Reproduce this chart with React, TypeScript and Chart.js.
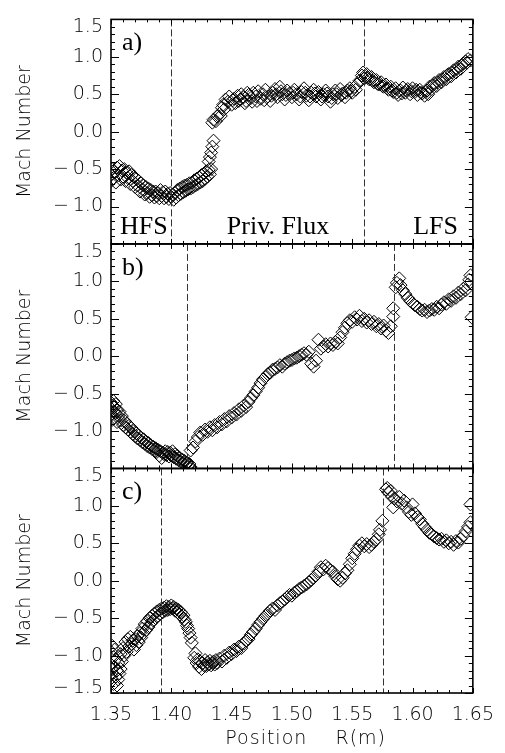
import { useEffect, useRef } from 'react';
import { Chart, registerables } from 'chart.js';

Chart.register(...registerables);

// ---- axis ticks / labels ----
const xTicks = [1.35, 1.4, 1.45, 1.5, 1.55, 1.6, 1.65];
const yTicks = [-1.5, -1.0, -0.5, 0, 0.5, 1.0, 1.5];
const panelIds = ['ya', 'yb', 'yc'];
const panelNames = ['a)', 'b)', 'c)'];
const regionLabels = [
  { text: 'HFS', x: 1.3575, y: -1.37 },
  { text: 'Priv. Flux', x: 1.446, y: -1.37 },
  { text: 'LFS', x: 1.6005, y: -1.37 },
];
const dashA = [1.4, 1.56];
const dashB = [1.4134, 1.5844];
const dashC = [1.3916, 1.5751];

// ---- data: [position R (m), Mach number] ----
const machA: [number, number][] = [
  [1.350,-0.58],[1.350,-0.66],[1.351,-0.50],[1.352,-0.62],[1.353,-0.54],[1.354,-0.68],[1.355,-0.48],[1.356,-0.58],
  [1.357,-0.46],[1.358,-0.64],[1.359,-0.52],[1.360,-0.60],[1.361,-0.50],[1.362,-0.66],[1.363,-0.55],[1.364,-0.62],
  [1.365,-0.53],[1.366,-0.70],[1.367,-0.58],[1.368,-0.66],[1.369,-0.60],[1.370,-0.74],[1.371,-0.63],[1.372,-0.72],
  [1.373,-0.66],[1.374,-0.80],[1.375,-0.69],[1.376,-0.77],[1.377,-0.72],[1.378,-0.84],[1.379,-0.74],[1.380,-0.82],
  [1.381,-0.76],[1.382,-0.87],[1.383,-0.78],[1.384,-0.85],[1.385,-0.80],[1.386,-0.88],[1.387,-0.80],[1.388,-0.86],
  [1.389,-0.82],[1.390,-0.89],[1.391,-0.78],[1.392,-0.86],[1.393,-0.81],[1.394,-0.89],[1.395,-0.80],[1.396,-0.87],
  [1.397,-0.83],[1.398,-0.90],[1.399,-0.82],[1.400,-0.87],[1.401,-0.84],[1.402,-0.91],[1.403,-0.82],[1.404,-0.88],
  [1.405,-0.78],[1.406,-0.85],[1.407,-0.76],[1.408,-0.83],[1.409,-0.74],[1.410,-0.81],[1.411,-0.72],[1.412,-0.79],
  [1.413,-0.71],[1.414,-0.77],[1.415,-0.69],[1.416,-0.76],[1.417,-0.68],[1.418,-0.74],[1.419,-0.65],[1.420,-0.72],
  [1.421,-0.63],[1.422,-0.70],[1.423,-0.61],[1.424,-0.68],[1.425,-0.58],[1.426,-0.66],[1.427,-0.56],[1.428,-0.63],
  [1.429,-0.53],[1.430,-0.60],[1.431,-0.51],[1.432,-0.57],[1.433,-0.50],
  [1.431,-0.40],[1.432,-0.34],[1.433,-0.28],[1.434,-0.20],[1.435,-0.12],[1.434,0.12],[1.435,0.16],[1.437,0.14],
  [1.438,0.20],[1.440,0.24],[1.441,0.21],[1.442,0.32],[1.443,0.36],[1.444,0.30],[1.445,0.43],[1.447,0.40],
  [1.448,0.47],[1.450,0.36],[1.451,0.42],[1.452,0.44],[1.453,0.38],[1.455,0.48],[1.456,0.41],[1.457,0.43],[1.458,0.50],[1.460,0.46],
  [1.461,0.38],[1.462,0.41],[1.463,0.52],[1.464,0.49],[1.466,0.45],[1.467,0.40],[1.468,0.52],[1.470,0.47],[1.471,0.41],[1.472,0.54],[1.474,0.44],[1.476,0.50],
  [1.477,0.42],[1.478,0.56],[1.480,0.47],[1.482,0.41],[1.483,0.48],[1.484,0.52],[1.486,0.57],[1.487,0.50],[1.488,0.46],[1.490,0.60],[1.491,0.54],[1.492,0.50],
  [1.494,0.43],[1.495,0.49],[1.496,0.55],[1.498,0.51],[1.500,0.46],[1.501,0.52],[1.502,0.56],[1.504,0.50],[1.506,0.43],[1.507,0.47],[1.508,0.53],
  [1.510,0.58],[1.511,0.52],[1.512,0.48],[1.514,0.42],[1.515,0.47],[1.516,0.52],[1.518,0.56],[1.519,0.51],[1.520,0.47],[1.522,0.53],[1.524,0.43],
  [1.525,0.47],[1.526,0.50],[1.528,0.55],[1.529,0.51],[1.530,0.47],[1.532,0.40],[1.533,0.45],[1.534,0.50],[1.536,0.55],[1.537,0.50],[1.538,0.45],[1.540,0.57],
  [1.541,0.49],[1.542,0.51],[1.544,0.46],[1.545,0.52],[1.546,0.55],[1.548,0.58],[1.549,0.54],[1.550,0.52],[1.552,0.60],[1.553,0.56],[1.554,0.63],[1.556,0.68],
  [1.558,0.75],[1.559,0.79],[1.560,0.71],[1.561,0.73],[1.562,0.77],[1.563,0.72],[1.564,0.70],[1.566,0.73],[1.567,0.68],[1.568,0.66],[1.570,0.69],
  [1.571,0.64],[1.572,0.63],[1.574,0.66],[1.575,0.61],[1.576,0.60],[1.578,0.63],[1.579,0.58],[1.580,0.56],[1.582,0.60],[1.583,0.55],[1.584,0.53],[1.586,0.58],
  [1.587,0.52],[1.588,0.49],[1.590,0.55],[1.591,0.51],[1.592,0.59],[1.594,0.52],[1.595,0.55],[1.596,0.57],[1.598,0.50],[1.599,0.54],[1.600,0.58],[1.602,0.53],
  [1.603,0.56],[1.604,0.49],[1.606,0.56],[1.607,0.52],[1.608,0.51],[1.610,0.48],[1.611,0.53],[1.612,0.55],[1.613,0.50],[1.614,0.60],[1.616,0.57],[1.617,0.62],[1.618,0.65],
  [1.620,0.61],[1.621,0.66],[1.622,0.69],[1.624,0.66],[1.625,0.70],[1.626,0.73],[1.628,0.70],[1.629,0.76],[1.630,0.77],[1.632,0.74],[1.633,0.79],[1.634,0.82],
  [1.636,0.79],[1.637,0.84],[1.638,0.87],[1.640,0.84],[1.641,0.89],[1.642,0.91],[1.644,0.94],[1.645,0.92],[1.646,0.97],[1.648,0.95],
];

const machB: [number, number][] = [
  [1.350,-0.62],[1.350,-0.70],[1.350,-0.78],[1.351,-0.66],[1.351,-0.85],[1.352,-0.60],[1.352,-0.74],[1.353,-0.68],
  [1.353,-0.82],[1.354,-0.64],[1.354,-0.76],[1.355,-0.72],[1.355,-0.88],[1.356,-0.80],[1.357,-0.74],[1.358,-0.86],
  [1.359,-0.80],[1.360,-0.92],[1.361,-0.86],[1.362,-0.95],[1.363,-0.90],[1.364,-0.98],[1.365,-0.93],[1.366,-1.01],
  [1.367,-0.96],[1.368,-1.04],[1.369,-1.00],[1.370,-1.07],[1.371,-1.03],[1.372,-1.10],[1.373,-1.06],[1.374,-1.12],
  [1.375,-1.09],[1.376,-1.15],[1.377,-1.11],[1.378,-1.17],[1.379,-1.14],[1.380,-1.20],[1.381,-1.16],[1.382,-1.22],
  [1.383,-1.19],[1.384,-1.24],[1.385,-1.21],[1.386,-1.26],[1.387,-1.23],[1.388,-1.28],[1.389,-1.25],[1.390,-1.33],
  [1.391,-1.27],[1.392,-1.36],[1.393,-1.29],[1.394,-1.31],[1.395,-1.27],[1.396,-1.32],[1.397,-1.28],[1.398,-1.34],
  [1.399,-1.29],[1.400,-1.33],[1.401,-1.27],[1.402,-1.35],[1.403,-1.31],[1.404,-1.37],[1.405,-1.33],[1.406,-1.39],
  [1.407,-1.36],[1.408,-1.41],[1.409,-1.38],[1.410,-1.43],[1.411,-1.40],[1.412,-1.45],[1.413,-1.42],[1.414,-1.47],
  [1.415,-1.44],[1.416,-1.48],
  [1.416,-1.26],[1.418,-1.22],[1.420,-1.14],[1.422,-1.08],[1.424,-1.02],[1.426,-1.05],[1.428,-0.98],[1.430,-1.01],
  [1.432,-0.95],[1.434,-0.99],[1.436,-0.92],[1.438,-0.95],[1.440,-0.88],[1.442,-0.91],[1.444,-0.84],[1.446,-0.87],
  [1.448,-0.80],[1.450,-0.82],[1.452,-0.76],[1.454,-0.78],[1.456,-0.71],[1.458,-0.73],[1.460,-0.66],[1.462,-0.68],
  [1.464,-0.61],[1.466,-0.56],[1.468,-0.52],[1.470,-0.47],[1.472,-0.42],[1.474,-0.36],[1.476,-0.31],[1.478,-0.28],
  [1.480,-0.24],[1.482,-0.22],[1.484,-0.18],[1.486,-0.17],[1.488,-0.15],[1.490,-0.12],[1.492,-0.14],[1.494,-0.10],
  [1.496,-0.08],[1.498,-0.06],[1.500,-0.05],[1.502,-0.03],[1.504,-0.02],[1.506,0.00],[1.508,0.02],[1.510,0.04],
  [1.512,0.02],[1.514,0.06],[1.516,-0.10],[1.518,-0.14],[1.520,-0.06],[1.522,0.22],[1.524,0.10],[1.526,0.13],
  [1.528,0.16],[1.530,0.13],[1.532,0.17],[1.534,0.15],[1.536,0.19],[1.538,0.17],[1.540,0.25],[1.542,0.32],
  [1.544,0.38],[1.546,0.44],[1.548,0.48],[1.550,0.46],[1.552,0.52],[1.554,0.49],[1.556,0.54],[1.558,0.47],
  [1.560,0.50],[1.562,0.45],[1.564,0.48],[1.566,0.43],[1.568,0.46],[1.570,0.40],[1.572,0.43],[1.574,0.37],
  [1.576,0.41],[1.578,0.34],[1.580,0.31],[1.582,0.40],[1.584,0.53],[1.584,0.64],
  [1.586,0.92],[1.587,0.98],[1.589,1.04],[1.590,0.95],[1.592,0.88],[1.594,0.83],[1.596,0.78],[1.598,0.74],
  [1.600,0.71],[1.602,0.68],[1.604,0.66],[1.606,0.63],[1.608,0.61],[1.610,0.62],[1.612,0.59],[1.614,0.61],
  [1.616,0.63],[1.618,0.62],[1.620,0.66],[1.622,0.64],[1.624,0.69],[1.626,0.72],[1.628,0.70],[1.630,0.76],
  [1.632,0.74],[1.634,0.80],[1.636,0.78],[1.638,0.85],[1.640,0.83],[1.642,0.90],[1.644,0.88],[1.646,0.96],
  [1.647,1.02],[1.648,1.08],[1.649,0.52],
];

const machC: [number, number][] = [
  [1.350,-0.95],[1.350,-1.12],[1.350,-1.26],[1.351,-0.87],[1.351,-1.18],[1.351,-1.33],[1.352,-1.02],[1.352,-1.38],
  [1.353,-0.92],[1.353,-1.15],[1.354,-1.05],[1.354,-1.28],[1.355,-1.20],[1.355,-1.40],[1.356,-1.10],[1.356,-1.32],
  [1.357,-1.24],[1.358,-0.98],[1.358,-1.18],[1.359,-1.08],[1.360,-0.90],[1.361,-1.00],[1.362,-0.82],[1.363,-0.95],
  [1.364,-0.78],[1.365,-0.88],[1.366,-0.75],[1.367,-0.85],[1.368,-0.80],[1.369,-0.92],[1.370,-0.78],[1.371,-0.86],
  [1.372,-0.74],[1.373,-0.82],[1.374,-0.70],[1.375,-0.76],[1.376,-0.64],[1.377,-0.70],[1.378,-0.58],[1.379,-0.66],
  [1.380,-0.54],[1.381,-0.62],[1.382,-0.50],[1.383,-0.57],[1.384,-0.47],[1.385,-0.53],[1.386,-0.44],[1.387,-0.50],
  [1.388,-0.41],[1.389,-0.47],[1.390,-0.39],[1.391,-0.44],[1.392,-0.37],[1.393,-0.42],[1.394,-0.36],[1.395,-0.40],
  [1.396,-0.34],[1.397,-0.39],[1.398,-0.35],[1.399,-0.38],[1.400,-0.33],[1.401,-0.37],[1.402,-0.35],[1.403,-0.40],
  [1.404,-0.37],[1.405,-0.42],[1.406,-0.39],[1.407,-0.45],[1.408,-0.42],[1.409,-0.48],[1.410,-0.46],[1.411,-0.52],
  [1.412,-0.55],[1.413,-0.60],[1.414,-0.64],[1.415,-0.70],[1.416,-0.76],[1.417,-0.83],
  [1.419,-1.03],[1.420,-0.97],[1.421,-1.10],[1.422,-1.05],[1.423,-1.15],[1.424,-1.08],[1.425,-1.18],[1.426,-1.10],
  [1.427,-1.13],[1.428,-1.06],[1.429,-1.14],[1.430,-1.09],[1.431,-1.12],[1.432,-1.07],[1.433,-1.13],[1.434,-1.10],
  [1.435,-1.08],[1.436,-1.12],[1.437,-1.06],[1.438,-1.10],[1.440,-1.04],[1.442,-1.08],[1.444,-1.00],[1.446,-1.03],
  [1.448,-0.96],[1.450,-0.98],[1.452,-0.92],[1.454,-0.94],[1.456,-0.88],[1.458,-0.90],[1.460,-0.84],[1.462,-0.80],
  [1.464,-0.78],[1.466,-0.72],[1.468,-0.68],[1.470,-0.64],[1.472,-0.59],[1.474,-0.55],[1.476,-0.51],[1.478,-0.47],
  [1.480,-0.44],[1.482,-0.40],[1.484,-0.37],[1.486,-0.39],[1.488,-0.33],[1.490,-0.30],[1.492,-0.28],[1.494,-0.25],
  [1.496,-0.22],[1.498,-0.19],[1.500,-0.20],[1.502,-0.16],[1.504,-0.14],[1.506,-0.11],[1.508,-0.09],[1.510,-0.07],
  [1.512,-0.05],[1.514,-0.02],[1.516,0.01],[1.518,0.04],[1.520,0.07],[1.522,0.12],[1.524,0.18],[1.526,0.15],
  [1.528,0.20],[1.530,0.17],[1.532,0.14],[1.534,0.12],[1.536,0.06],[1.538,0.02],[1.540,0.00],[1.542,0.04],
  [1.544,0.10],[1.546,0.14],[1.548,0.22],[1.550,0.30],[1.552,0.36],[1.554,0.42],[1.556,0.47],[1.558,0.50],
  [1.560,0.46],[1.562,0.49],[1.564,0.45],[1.566,0.48],[1.568,0.52],[1.570,0.55],[1.572,0.62],[1.573,0.68],
  [1.575,0.80],
  [1.578,1.22],[1.579,1.24],[1.580,1.18],[1.582,1.20],[1.583,1.12],[1.584,0.98],[1.585,1.10],[1.587,1.06],
  [1.589,1.12],[1.591,1.03],[1.593,1.07],[1.595,0.98],[1.597,0.92],[1.599,0.88],[1.600,1.02],[1.602,0.90],
  [1.604,0.85],[1.606,0.82],[1.608,0.76],[1.610,0.72],[1.612,0.68],[1.614,0.64],[1.616,0.62],[1.618,0.59],
  [1.620,0.57],[1.622,0.55],[1.624,0.56],[1.626,0.52],[1.628,0.54],[1.630,0.50],[1.632,0.52],[1.634,0.48],
  [1.636,0.53],[1.638,0.51],[1.640,0.56],[1.642,0.60],[1.644,0.66],[1.646,0.72],[1.648,0.78],[1.648,1.02],
];

const panelData = [machA, machB, machC];
const panelDashes = [dashA, dashB, dashC];

const SANS = 'DejaVu Sans';
const SERIF = 'Liberation Serif';
const SANS_WEIGHT = '200';

const fmtY = (v: number) => {
  const s = Math.abs(v).toFixed(1);
  return v < -1e-9 ? '\u2212\u2009' + s : s;
};

const framePlugin = {
  id: 'idlFrame',
  beforeDatasetDraw(chart: any, args: any) {
    const ys = chart.scales[args.meta.yAxisID];
    const { left, right } = chart.chartArea;
    const ctx = chart.ctx;
    ctx.save();
    ctx.beginPath();
    ctx.rect(left, ys.top, right - left, ys.bottom - ys.top);
    ctx.clip();
  },
  afterDatasetDraw(chart: any) {
    chart.ctx.restore();
  },
  afterDraw(chart: any) {
    const ctx = chart.ctx as CanvasRenderingContext2D;
    const xs = chart.scales.x;
    const { left, right } = chart.chartArea;
    const line = (x1: number, y1: number, x2: number, y2: number) => {
      ctx.beginPath();
      ctx.moveTo(x1, y1);
      ctx.lineTo(x2, y2);
      ctx.stroke();
    };
    panelIds.forEach((id, k) => {
      const ys = chart.scales[id];
      const top = ys.top;
      const bottom = ys.bottom;
      // dashed separators
      ctx.save();
      ctx.strokeStyle = '#333';
      ctx.lineWidth = 1;
      ctx.setLineDash([7, 3]);
      panelDashes[k].forEach((v) => {
        const px = Math.round(xs.getPixelForValue(v)) + 0.5;
        line(px, top, px, bottom);
      });
      ctx.restore();
      // frame
      ctx.save();
      ctx.strokeStyle = '#000';
      ctx.lineWidth = 1.6;
      ctx.strokeRect(left, top, right - left, bottom - top);
      ctx.lineWidth = 1;
      for (let i = 0; i <= 30; i++) {
        const px = Math.round(xs.getPixelForValue(1.35 + i * 0.01)) + 0.5;
        const len = i % 5 === 0 ? 5 : 3;
        line(px, bottom, px, bottom - len);
        line(px, top, px, top + len);
      }
      for (let i = 0; i <= 30; i++) {
        const py = Math.round(ys.getPixelForValue(-1.5 + i * 0.1)) + 0.5;
        const len = i % 5 === 0 ? 8 : 4;
        line(left, py, left + len, py);
        line(right, py, right - len, py);
      }
      // edge tick labels (shifted inward like the original)
      ctx.fillStyle = '#000';
      ctx.font = `${SANS_WEIGHT} 19px "${SANS}"`;
      ctx.textAlign = 'right';
      ctx.textBaseline = 'middle';
      ctx.fillText(fmtY(yTicks[yTicks.length - 1]), ys.right - 8, top + 8);
      if (k === panelIds.length - 1) ctx.fillText(fmtY(yTicks[0]), ys.right - 8, bottom - 5);
      // panel label
      ctx.font = `26px "${SERIF}"`;
      ctx.textAlign = 'left';
      ctx.textBaseline = 'alphabetic';
      ctx.fillText(panelNames[k], left + 11, top + 31);
      if (k === 0) {
        regionLabels.forEach((r) => {
          ctx.fillText(r.text, xs.getPixelForValue(r.x), ys.getPixelForValue(r.y));
        });
      }
      ctx.restore();
    });
    // x axis title
    ctx.save();
    ctx.fillStyle = '#000';
    ctx.font = `${SANS_WEIGHT} 19px "${SANS}"`;
    (ctx as any).letterSpacing = '1px';
    ctx.textAlign = 'center';
    ctx.textBaseline = 'middle';
    ctx.fillText('Position    R(m)', left + 0.538 * (right - left), 739);
    ctx.restore();
  },
};

function yScale(weight: number) {
  return {
    type: 'linear' as const,
    position: 'left' as const,
    stack: 'panels',
    stackWeight: 1,
    weight,
    min: -1.5,
    max: 1.5,
    grid: { display: false, drawTicks: false },
    border: { display: false },
    afterBuildTicks: (s: any) => {
      s.ticks = yTicks.map((v) => ({ value: v }));
    },
    afterFit: (s: any) => {
      s.width = 111;
    },
    ticks: {
      padding: 8,
      color: '#000',
      autoSkip: false,
      font: { family: SANS, size: 19, weight: SANS_WEIGHT },
      callback: (v: any) => (Math.abs(Number(v)) > 1.49 ? '' : fmtY(Number(v))),
    },
    title: {
      display: true,
      text: 'Mach Number',
      color: '#000',
      font: { family: SANS, size: 19, weight: SANS_WEIGHT },
      padding: { top: 14, bottom: 0 },
    },
  };
}

export default function App() {
  const ref = useRef<HTMLCanvasElement>(null);
  useEffect(() => {
    const canvas = ref.current;
    if (!canvas) return;
    const chart = new Chart(canvas, {
      type: 'scatter',
      data: {
        datasets: panelData.map((d, k) => ({
          data: d.map(([x, y]) => ({ x, y })),
          yAxisID: panelIds[k],
          pointStyle: 'rectRot',
          pointRadius: 6.5,
          borderColor: '#000',
          backgroundColor: 'rgba(0,0,0,0)',
          borderWidth: 1,
          showLine: false,
        })),
      },
      options: {
        animation: false,
        responsive: false,
        devicePixelRatio: 1,
        events: [],
        layout: { padding: { top: 12, right: 28, left: 0, bottom: 0 } },
        plugins: { legend: { display: false }, tooltip: { enabled: false } },
        scales: {
          x: {
            type: 'linear',
            position: 'bottom',
            min: 1.35,
            max: 1.65,
            grid: { display: false, drawTicks: false },
            border: { display: false },
            afterBuildTicks: (s: any) => {
              s.ticks = xTicks.map((v) => ({ value: v }));
            },
            afterFit: (s: any) => {
              s.height = 60;
            },
            ticks: {
              padding: 11,
              color: '#000',
              autoSkip: false,
              maxRotation: 0,
              font: { family: SANS, size: 19, weight: SANS_WEIGHT },
              callback: (v: any) => Number(v).toFixed(2),
            },
          },
          ya: yScale(3),
          yb: yScale(2),
          yc: yScale(1),
        } as any,
      },
      plugins: [framePlugin],
    });
    return () => chart.destroy();
  }, []);
  return (
    <canvas
      ref={ref}
      width={505}
      height={753}
      style={{ position: 'fixed', left: 0, top: 0, width: 505, height: 753, background: '#fff' }}
    />
  );
}
